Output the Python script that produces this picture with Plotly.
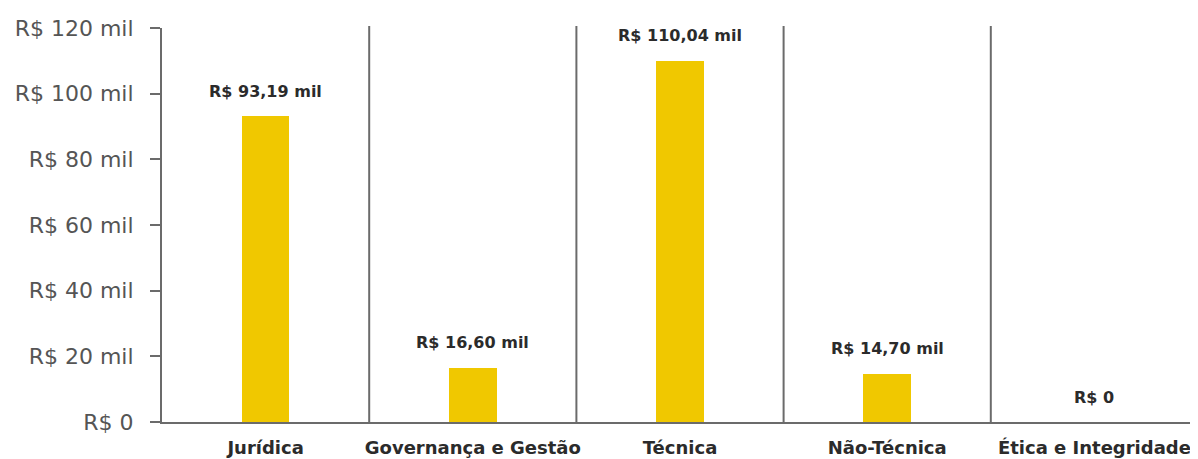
import plotly.graph_objects as go

categories = ["Jurídica", "Governança e Gestão", "Técnica", "Não-Técnica", "Ética e Integridade"]
values = [93.19, 16.60, 110.04, 14.70, 0]
value_labels = ["R$ 93,19 mil", "R$ 16,60 mil", "R$ 110,04 mil", "R$ 14,70 mil", "R$ 0"]
tick_vals = [0, 20, 40, 60, 80, 100, 120]
tick_text = ["R$ 0", "R$ 20 mil", "R$ 40 mil", "R$ 60 mil", "R$ 80 mil", "R$ 100 mil", "R$ 120 mil"]

BAR = "#F0C800"
LINE = "#6b6b6b"
DARK = "#2b2b2b"

fig = go.Figure()
fig.add_trace(go.Bar(x=categories, y=values, marker=dict(color=BAR, line=dict(width=0)),
                     width=0.23, hoverinfo="skip"))

for c, v, t in zip(categories, values, value_labels):
    fig.add_annotation(x=c, y=v, text=t, showarrow=False, yshift=25, yanchor="middle",
                       font=dict(family="DejaVu Sans", size=16, color=DARK, weight="bold"))

shapes = []
for i in range(len(categories) - 1):
    shapes.append(dict(type="line", xref="x", yref="paper", x0=i + 0.5, x1=i + 0.5, y0=0, y1=1.005,
                       line=dict(color=LINE, width=2)))

# page body has an 8px margin, so the figure is sized/offset to compensate
fig.update_layout(
    width=1190, height=451,
    margin=dict(l=154, r=0, t=20, b=37),
    plot_bgcolor="white", paper_bgcolor="white",
    showlegend=False,
    shapes=shapes,
    bargap=0,
)
fig.update_xaxes(type="category", range=[-0.5, 4.5], showline=True, linecolor=LINE, linewidth=2,
                 showgrid=False, ticks="", ticklabelstandoff=8, automargin=False,
                 tickfont=dict(family="DejaVu Sans", size=18, color=DARK, weight="bold"))
fig.update_yaxes(range=[0, 120], tickvals=tick_vals, ticktext=tick_text, showline=True,
                 linecolor=LINE, linewidth=2, showgrid=False, zeroline=False, automargin=False,
                 ticks="outside", ticklen=10, tickwidth=2, tickcolor=LINE, ticklabelstandoff=12,
                 tickfont=dict(family="DejaVu Sans", size=22, color="#555555"))

fig.write_html("out.html")
